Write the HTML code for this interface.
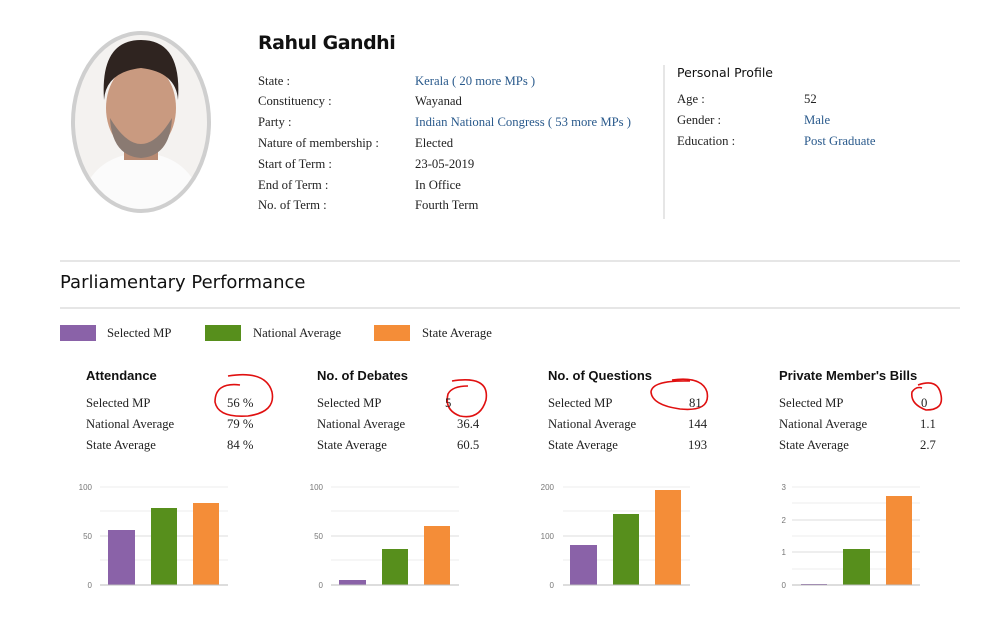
<!DOCTYPE html>
<html><head><meta charset="utf-8"><style>
body{margin:0;background:#fff;width:996px;height:627px;position:relative;overflow:hidden;font-family:"Liberation Serif",serif;color:#222}
.t{position:absolute;font-size:12.7px;line-height:16px;white-space:nowrap}
.b{color:#2a5a8c}
.h{position:absolute;font-family:"Liberation Sans",sans-serif;font-weight:bold;font-size:13px;white-space:nowrap;color:#111}
</style></head><body>
<svg width="996" height="627" style="position:absolute;left:0;top:0">
<defs><clipPath id="ov"><ellipse cx="141" cy="122" rx="67" ry="88"/></clipPath></defs>
<g clip-path="url(#ov)">
<rect x="60" y="20" width="160" height="200" fill="#f4f2f0"/>
<path d="M78 215 Q84 165 125 155 L158 155 Q198 165 205 215 Z" fill="#fbfbfb"/>
<rect x="124" y="135" width="34" height="25" fill="#b88a72"/>
<ellipse cx="141" cy="108" rx="35" ry="46" fill="#c99a80"/>
<path d="M104 100 Q100 40 141 40 Q182 40 178 100 Q176 72 141 68 Q106 72 104 100Z" fill="#2f2420"/>
<path d="M110 118 Q141 170 172 118 Q170 156 141 158 Q112 156 110 118Z" fill="#8a7a72"/>
</g>
<ellipse cx="141" cy="122" rx="68" ry="89" fill="none" stroke="#cfcfcf" stroke-width="4"/>
<line x1="664" y1="65" x2="664" y2="219" stroke="#ccc"/>
<line x1="60" y1="261" x2="960" y2="261" stroke="#ccc"/>
<line x1="60" y1="308" x2="960" y2="308" stroke="#ccc"/>
<rect x="60" y="325" width="36" height="16" fill="#8a62a8"/>
<rect x="205" y="325" width="36" height="16" fill="#578f1c"/>
<rect x="374" y="325" width="36" height="16" fill="#f48d38"/>
<g font-family="Liberation Sans,sans-serif" font-size="8" fill="#777" text-anchor="end">
<g stroke="#eee"><line x1="100" y1="487" x2="228" y2="487"/><line x1="100" y1="511" x2="228" y2="511"/><line x1="100" y1="560" x2="228" y2="560"/></g>
<line x1="100" y1="536" x2="228" y2="536" stroke="#ddd"/>
<rect x="108" y="530" width="27" height="55" fill="#8a62a8"/><rect x="151" y="508" width="26" height="77" fill="#578f1c"/><rect x="193" y="503" width="26" height="82" fill="#f48d38"/>
<line x1="100" y1="585" x2="228" y2="585" stroke="#bbb"/>
<text x="92" y="490">100</text><text x="92" y="539">50</text><text x="92" y="588">0</text>
<g stroke="#eee"><line x1="331" y1="487" x2="459" y2="487"/><line x1="331" y1="511" x2="459" y2="511"/><line x1="331" y1="560" x2="459" y2="560"/></g>
<line x1="331" y1="536" x2="459" y2="536" stroke="#ddd"/>
<rect x="339" y="580" width="27" height="5" fill="#8a62a8"/><rect x="382" y="549" width="26" height="36" fill="#578f1c"/><rect x="424" y="526" width="26" height="59" fill="#f48d38"/>
<line x1="331" y1="585" x2="459" y2="585" stroke="#bbb"/>
<text x="323" y="490">100</text><text x="323" y="539">50</text><text x="323" y="588">0</text>
<g stroke="#eee"><line x1="563" y1="487" x2="690" y2="487"/><line x1="563" y1="511" x2="690" y2="511"/><line x1="563" y1="560" x2="690" y2="560"/></g>
<line x1="563" y1="536" x2="690" y2="536" stroke="#ddd"/>
<rect x="570" y="545" width="27" height="40" fill="#8a62a8"/><rect x="613" y="514" width="26" height="71" fill="#578f1c"/><rect x="655" y="490" width="26" height="95" fill="#f48d38"/>
<line x1="563" y1="585" x2="690" y2="585" stroke="#bbb"/>
<text x="554" y="490">200</text><text x="554" y="539">100</text><text x="554" y="588">0</text>
<g stroke="#eee"><line x1="792" y1="487" x2="920" y2="487"/><line x1="792" y1="503" x2="920" y2="503"/><line x1="792" y1="536" x2="920" y2="536"/><line x1="792" y1="569" x2="920" y2="569"/></g>
<g stroke="#ddd"><line x1="792" y1="520" x2="920" y2="520"/><line x1="792" y1="552" x2="920" y2="552"/></g>
<rect x="801" y="584" width="26" height="1" fill="#8a62a8"/><rect x="843" y="549" width="27" height="36" fill="#578f1c"/><rect x="886" y="496" width="26" height="89" fill="#f48d38"/>
<line x1="792" y1="585" x2="920" y2="585" stroke="#bbb"/>
<text x="786" y="490">3</text><text x="786" y="523">2</text><text x="786" y="555">1</text><text x="786" y="588">0</text>
</g>
<g fill="none" stroke="#e01010" stroke-width="1.6">
<path d="M240 385 Q215 382 215 402 Q218 418 248 416 Q276 412 272 392 Q266 370 228 376"/>
<path d="M452 381 Q490 375 486 400 Q480 420 460 416 Q444 410 448 394 Q452 386 468 386"/>
<path d="M672 380 Q702 376 707 392 Q711 412 680 409 Q652 405 651 392 Q652 380 690 381"/>
<path d="M918 385 Q938 378 941 395 Q944 410 926 410 Q910 404 912 392 Q916 386 922 388"/>
</g>
</svg>
<div class="h" style="left:258px;top:32px;font-size:19px;font-weight:bold;font-family:'DejaVu Sans','Liberation Sans',sans-serif;letter-spacing:-0.5px;font-weight:600">Rahul Gandhi</div>
<div class="t" style="left:258px;top:73px">State :</div><div class="t b" style="left:415px;top:73px">Kerala ( 20 more MPs )</div>
<div class="t" style="left:258px;top:93px">Constituency :</div><div class="t" style="left:415px;top:93px">Wayanad</div>
<div class="t" style="left:258px;top:114px">Party :</div><div class="t b" style="left:415px;top:114px">Indian National Congress ( 53 more MPs )</div>
<div class="t" style="left:258px;top:135px">Nature of membership :</div><div class="t" style="left:415px;top:135px">Elected</div>
<div class="t" style="left:258px;top:156px">Start of Term :</div><div class="t" style="left:415px;top:156px">23-05-2019</div>
<div class="t" style="left:258px;top:177px">End of Term :</div><div class="t" style="left:415px;top:177px">In Office</div>
<div class="t" style="left:258px;top:197px">No. of Term :</div><div class="t" style="left:415px;top:197px">Fourth Term</div>
<div class="h" style="left:677px;top:65px;font-weight:normal;font-family:'DejaVu Sans',sans-serif;font-size:12.5px">Personal Profile</div>
<div class="t" style="left:677px;top:91px">Age :</div><div class="t" style="left:804px;top:91px">52</div>
<div class="t" style="left:677px;top:112px">Gender :</div><div class="t b" style="left:804px;top:112px">Male</div>
<div class="t" style="left:677px;top:133px">Education :</div><div class="t b" style="left:804px;top:133px">Post Graduate</div>
<div class="h" style="left:60px;top:272px;font-size:18px;font-weight:normal;font-family:'DejaVu Sans',sans-serif">Parliamentary Performance</div>
<div class="t" style="left:107px;top:325px">Selected MP</div>
<div class="t" style="left:253px;top:325px">National Average</div>
<div class="t" style="left:422px;top:325px">State Average</div>

<div class="h" style="left:86px;top:368px">Attendance</div>
<div class="t" style="left:86px;top:395px">Selected MP</div><div class="t" style="left:227px;top:395px">56 %</div>
<div class="t" style="left:86px;top:416px">National Average</div><div class="t" style="left:227px;top:416px">79 %</div>
<div class="t" style="left:86px;top:437px">State Average</div><div class="t" style="left:227px;top:437px">84 %</div>

<div class="h" style="left:317px;top:368px">No. of Debates</div>
<div class="t" style="left:317px;top:395px">Selected MP</div><div class="t" style="left:445px;top:395px">5</div>
<div class="t" style="left:317px;top:416px">National Average</div><div class="t" style="left:457px;top:416px">36.4</div>
<div class="t" style="left:317px;top:437px">State Average</div><div class="t" style="left:457px;top:437px">60.5</div>

<div class="h" style="left:548px;top:368px">No. of Questions</div>
<div class="t" style="left:548px;top:395px">Selected MP</div><div class="t" style="left:689px;top:395px">81</div>
<div class="t" style="left:548px;top:416px">National Average</div><div class="t" style="left:688px;top:416px">144</div>
<div class="t" style="left:548px;top:437px">State Average</div><div class="t" style="left:688px;top:437px">193</div>

<div class="h" style="left:779px;top:368px">Private Member's Bills</div>
<div class="t" style="left:779px;top:395px">Selected MP</div><div class="t" style="left:921px;top:395px">0</div>
<div class="t" style="left:779px;top:416px">National Average</div><div class="t" style="left:920px;top:416px">1.1</div>
<div class="t" style="left:779px;top:437px">State Average</div><div class="t" style="left:920px;top:437px">2.7</div>
</body></html>
